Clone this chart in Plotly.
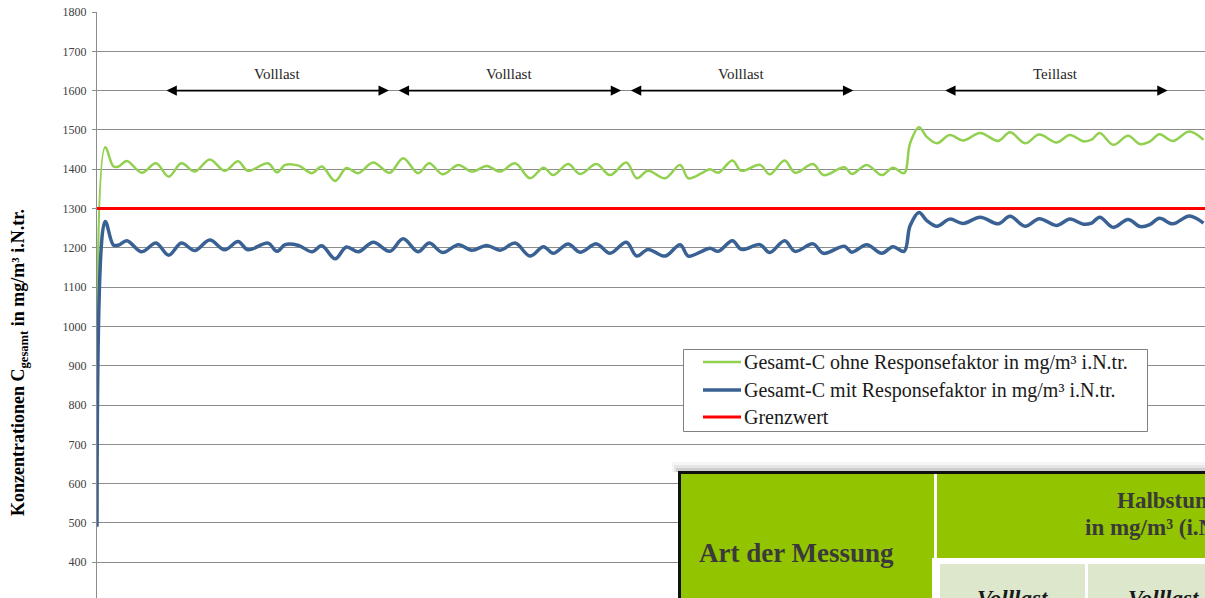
import plotly.graph_objects as go

# Messzeit in Minuten ab Messbeginn
time_min = [
    0.0, 1.1, 2.2, 2.9, 4.0, 6.0, 7.9, 9.6, 11.3, 13.1, 15.1, 17.1, 18.9, 20.2,
    22.9, 24.1, 25.2, 27.0, 28.8, 30.1, 31.9, 33.4, 35.0, 37.0, 39.2, 41.0, 43.0,
    44.5, 46.3, 48.4, 50.2, 52.2, 54.0, 56.0, 58.0, 59.8, 61.1, 63.1, 64.7, 66.9,
    68.7, 70.9, 72.3, 73.8, 76.1, 78.1, 79.2, 81.0, 82.1, 83.2, 85.1, 86.3, 88.8,
    90.1, 92.1, 93.5, 95.9, 97.3, 100.1, 101.1, 103.1, 105.1, 106.6, 108.1, 108.9,
    110.1, 111.1, 112.5, 114.2, 116.0, 118.3, 120.7, 122.3, 124.3, 126.2, 128.5,
    130.3, 132.1, 133.2, 134.3, 136.1, 138.1, 139.7, 141.0, 142.3, 144.1, 146.3,
    148.2,
]

# Gesamt-C ohne Responsefaktor in mg/m³ i.N.tr.
gesamt_c_ohne = [
    780, 1456, 1407, 1407, 1421, 1391, 1415, 1381, 1415, 1394, 1425, 1396, 1420, 1396,
    1415, 1392, 1411, 1409, 1390, 1407, 1370, 1403, 1390, 1417, 1391, 1428, 1390,
    1415, 1387, 1411, 1394, 1408, 1394, 1415, 1377, 1404, 1385, 1413, 1388, 1413,
    1385, 1417, 1377, 1396, 1377, 1411, 1377, 1390, 1400, 1391, 1422, 1396, 1411,
    1387, 1422, 1391, 1413, 1385, 1405, 1388, 1411, 1385, 1404, 1390, 1466,
    1507, 1483, 1466, 1487, 1473, 1492, 1472, 1494, 1466, 1488, 1468,
    1487, 1471, 1475, 1492, 1462, 1485, 1464, 1470, 1489, 1472, 1496,
    1475,
]

# Gesamt-C mit Responsefaktor in mg/m³ i.N.tr.
gesamt_c_mit = [
    490, 1267, 1207, 1207, 1218, 1190, 1212, 1181, 1212, 1193, 1220, 1195, 1216, 1195,
    1212, 1191, 1208, 1206, 1190, 1205, 1172, 1202, 1190, 1214, 1191, 1223, 1190,
    1212, 1188, 1208, 1194, 1206, 1194, 1212, 1179, 1203, 1186, 1210, 1189, 1210,
    1186, 1214, 1179, 1196, 1179, 1208, 1179, 1191, 1199, 1191, 1218, 1196, 1208,
    1188, 1218, 1191, 1210, 1186, 1204, 1189, 1208, 1186, 1203, 1191, 1256,
    1290, 1270, 1255, 1273, 1262, 1278, 1261, 1280, 1255, 1274, 1257,
    1273, 1260, 1263, 1278, 1252, 1272, 1254, 1259, 1275, 1261, 1281,
    1263,
]

# Grenzwert
grenz_time = [0.0, 148.4]
grenzwert = [1300, 1300]

# Betriebsphasen (Beginn / Ende in Minuten)
phase_labels = ["Volllast", "Volllast", "Volllast", "Teillast"]
phase_start = [9.1, 40.2, 71.3, 113.4]
phase_end = [39.1, 70.2, 101.3, 143.4]

series_names = [
    "Gesamt-C ohne Responsefaktor in mg/m³ i.N.tr.",
    "Gesamt-C mit Responsefaktor in mg/m³ i.N.tr.",
    "Grenzwert",
]
series_colors = ["#92D050", "#3A6194", "#FF0000"]
series_widths = [2.5, 3.5, 3]

W, H = 1205, 598
ML, MT = 97, 12
PW, PH = W - ML, H - MT
SERIF = "Liberation Serif, Times New Roman, serif"


def px_x(px):
    return (px - ML) / PW


def px_y(py):
    return (H - py) / PH


fig = go.Figure()
for xs, ys, name, color, width, shape in [
    (time_min, gesamt_c_ohne, series_names[0], series_colors[0], series_widths[0], "spline"),
    (time_min, gesamt_c_mit, series_names[1], series_colors[1], series_widths[1], "spline"),
    (grenz_time, grenzwert, series_names[2], series_colors[2], series_widths[2], "linear"),
]:
    fig.add_trace(go.Scatter(
        x=xs, y=ys, mode="lines", line_shape=shape,
        line=dict(color=color, width=width), name=name, showlegend=False))

annotations = []
for lab, t0, t1 in zip(phase_labels, phase_start, phase_end):
    annotations.append(dict(
        x=t1, y=1600, ax=t0, ay=1600, xref="x", yref="y", axref="x", ayref="y",
        text="", showarrow=True, arrowhead=2, arrowside="end+start",
        arrowsize=1.3, arrowwidth=1.6, arrowcolor="#000000"))
    annotations.append(dict(
        x=(t0 + t1) / 2, y=1643, xref="x", yref="y", text=lab, showarrow=False,
        font=dict(family=SERIF, size=15, color="#262626")))

annotations.append(dict(
    x=px_x(20), y=907, xref="paper", yref="y", textangle=-90,
    text="<b>Konzentrationen C<sub>gesamt</sub> in mg/m³ i.N.tr.</b>",
    showarrow=False, xanchor="center", yanchor="middle",
    font=dict(family=SERIF, size=18, color="#000000")))

shapes = []


def rect(x0, y0, x1, y1, color, opacity=1.0, line=None):
    shapes.append(dict(
        type="rect", xref="paper", yref="paper", layer="above",
        x0=px_x(x0), x1=px_x(x1), y0=px_y(y1), y1=px_y(y0),
        fillcolor=color, opacity=opacity,
        line=line if line else dict(width=0)))


# Legende
rect(683.5, 349.5, 1147.5, 431.5, "#FFFFFF", line=dict(color="#808080", width=1))
legend_rows = [362, 390, 417]
for name, color, width, ry in zip(series_names, series_colors, series_widths, legend_rows):
    shapes.append(dict(
        type="line", xref="paper", yref="paper", layer="above",
        x0=px_x(703), x1=px_x(741), y0=px_y(ry), y1=px_y(ry),
        line=dict(color=color, width=width)))
    annotations.append(dict(
        x=px_x(742), y=px_y(ry), xref="paper", yref="paper", showarrow=False,
        text=name, xanchor="left", yanchor="middle",
        font=dict(family=SERIF, size=20, color="#1a1a1a")))

# Tabelle am unteren rechten Rand
rect(672, 462, 1215, 472, "#000000", 0.04)
rect(674, 465, 1215, 472, "#000000", 0.06)
rect(676, 468, 1215, 472, "#000000", 0.10)
rect(678, 471, 1215, 615, "#111111")
rect(681, 474, 934, 615, "#92C400")
rect(934, 474, 1215, 615, "#FFFFFF")
rect(937, 474, 1215, 558, "#92C400")
rect(932, 558, 1215, 615, "#FFFFFF")
rect(940, 564, 1085, 615, "#DCE7CC")
rect(1088, 564, 1215, 615, "#DCE7CC")

tab_color = "#3A3A3A"
annotations += [
    dict(x=px_x(796), y=px_y(553), xref="paper", yref="paper", showarrow=False,
         text="<b>Art der Messung</b>", xanchor="center", yanchor="middle",
         font=dict(family=SERIF, size=27, color=tab_color)),
    dict(x=px_x(1115), y=px_y(500), xref="paper", yref="paper", showarrow=False,
         text="<b>Halbstundenmittelwerte</b>", xanchor="left", yanchor="middle",
         font=dict(family=SERIF, size=23, color=tab_color)),
    dict(x=px_x(1083), y=px_y(527), xref="paper", yref="paper", showarrow=False,
         text="<b>in mg/m³ (i.N.tr.)</b>", xanchor="left", yanchor="middle",
         font=dict(family=SERIF, size=23, color=tab_color)),
    dict(x=px_x(1012), y=px_y(598), xref="paper", yref="paper", showarrow=False,
         text="<b><i>Volllast</i></b>", xanchor="center", yanchor="middle",
         font=dict(family=SERIF, size=23, color="#1a1a1a")),
    dict(x=px_x(1163), y=px_y(598), xref="paper", yref="paper", showarrow=False,
         text="<b><i>Volllast</i></b>", xanchor="center", yanchor="middle",
         font=dict(family=SERIF, size=23, color="#1a1a1a")),
]

fig.update_layout(
    width=W, height=H,
    margin=dict(l=ML, r=0, t=MT, b=0),
    paper_bgcolor="#FFFFFF", plot_bgcolor="#FFFFFF",
    showlegend=False,
    xaxis=dict(range=[0, 148.4], showgrid=False, showticklabels=False,
               zeroline=False, showline=False, ticks=""),
    yaxis=dict(range=[309, 1800], tick0=0, dtick=100, showgrid=True,
               gridcolor="#8C8C8C", gridwidth=1, zeroline=False,
               showline=True, linecolor="#8C8C8C", linewidth=1,
               ticks="outside", ticklen=4, tickcolor="#8C8C8C",
               ticklabelstandoff=3,
               tickfont=dict(family=SERIF, size=12, color="#404040")),
    annotations=annotations,
    shapes=shapes,
)

fig.write_html("out.html")
